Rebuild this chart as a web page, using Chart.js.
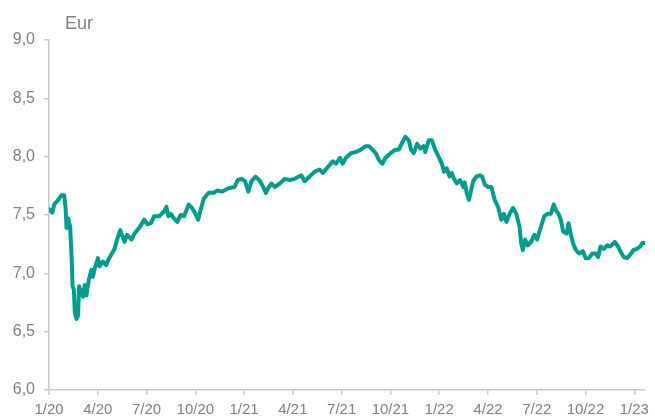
<!DOCTYPE html>
<html>
<head>
<meta charset="utf-8">
<script src="https://cdn.jsdelivr.net/npm/chart.js@4.4.0/dist/chart.umd.min.js"></script>
<style>
  html, body { margin: 0; padding: 0; background: #ffffff; }
  #wrap { width: 655px; height: 418px; position: relative; }
</style>
</head>
<body>
<div id="wrap"><canvas id="c"></canvas></div>
<script>
// Months elapsed since 1 Jan 2020
const months = [
  0, 0.20, 0.32, 0.57, 0.77, 0.93, 1.02, 1.08, 1.18, 1.30, 1.39, 1.45, 1.53, 1.59, 1.69, 1.79,
  1.85, 2.00, 2.09, 2.20, 2.30, 2.44, 2.61, 2.70, 2.81, 3.01, 3.11, 3.31, 3.52, 3.62, 3.83,
  4.03, 4.19, 4.39, 4.64, 4.80, 5.08, 5.25, 5.55, 5.86, 6.06, 6.27, 6.47, 6.77, 7.08, 7.22,
  7.34, 7.49, 7.69, 7.89, 8.10, 8.30, 8.60, 8.80, 9.01, 9.17, 9.32, 9.52, 9.82, 10.13, 10.33,
  10.63, 11.04, 11.41, 11.61, 11.85, 12.06, 12.26, 12.46, 12.71, 12.98, 13.18, 13.34, 13.48,
  13.69, 13.89, 14.20, 14.50, 14.81, 15.11, 15.52, 15.72, 16.03, 16.33, 16.64, 16.84, 17.14,
  17.45, 17.65, 17.90, 18.06, 18.26, 18.57, 18.87, 19.18, 19.48, 19.69, 19.89, 20.09, 20.30,
  20.50, 20.70, 21.01, 21.31, 21.52, 21.72, 21.92, 22.13, 22.27, 22.43, 22.64, 22.84, 23.04,
  23.14, 23.35, 23.55, 23.75, 23.96, 24.16, 24.30, 24.47, 24.63, 24.77, 24.91, 25.08, 25.28,
  25.49, 25.57, 25.69, 25.83, 25.96, 26.09, 26.29, 26.50, 26.64, 26.80, 27.01, 27.21, 27.41,
  27.62, 27.82, 27.98, 28.13, 28.33, 28.54, 28.74, 28.94, 29.04, 29.14, 29.29, 29.45, 29.65,
  29.85, 30.02, 30.26, 30.46, 30.67, 30.87, 31.04, 31.18, 31.34, 31.48, 31.62, 31.83, 31.95,
  32.09, 32.23, 32.40, 32.60, 32.84, 33.01, 33.21, 33.42, 33.62, 33.78, 33.92, 34.13, 34.33,
  34.53, 34.80, 35.00, 35.14, 35.35, 35.55, 35.75, 35.95, 36.16, 36.36, 36.50, 36.63
];
// EUR value
const values = [
  7.55, 7.52, 7.59, 7.63, 7.67, 7.67, 7.56, 7.39, 7.47, 7.40, 7.14, 6.89, 6.86, 6.66, 6.61, 6.64,
  6.89, 6.83, 6.80, 6.90, 6.81, 6.94, 7.03, 6.97, 7.04, 7.13, 7.06, 7.10, 7.07, 7.11, 7.16,
  7.21, 7.29, 7.37, 7.27, 7.33, 7.29, 7.34, 7.39, 7.46, 7.42, 7.43, 7.49, 7.49, 7.53, 7.57,
  7.49, 7.51, 7.47, 7.44, 7.50, 7.49, 7.59, 7.56, 7.51, 7.46, 7.54, 7.64, 7.69, 7.69, 7.71,
  7.70, 7.73, 7.74, 7.80, 7.81, 7.79, 7.70, 7.79, 7.83, 7.79, 7.74, 7.69, 7.73,
  7.77, 7.74, 7.77, 7.81, 7.80, 7.81, 7.84, 7.79, 7.83, 7.87, 7.89, 7.86, 7.91,
  7.96, 7.94, 7.99, 7.94, 7.99, 8.03, 8.04, 8.06, 8.09, 8.09, 8.06, 8.03, 7.97,
  7.94, 7.99, 8.03, 8.06, 8.06, 8.12, 8.17, 8.14, 8.06, 8.03, 8.11, 8.07, 8.09,
  8.04, 8.14, 8.14, 8.06, 8.00, 7.94, 7.87, 7.90, 7.83, 7.86, 7.81, 7.77, 7.80,
  7.74, 7.78, 7.69, 7.63, 7.71, 7.79, 7.83, 7.84, 7.83, 7.76, 7.74, 7.74, 7.63,
  7.57, 7.46, 7.51, 7.44, 7.51, 7.56, 7.51, 7.40, 7.26, 7.20, 7.29, 7.24, 7.27,
  7.33, 7.29, 7.40, 7.49, 7.51, 7.51, 7.59, 7.54, 7.51, 7.46, 7.36, 7.34, 7.43,
  7.34, 7.26, 7.20, 7.17, 7.19, 7.13, 7.13, 7.17, 7.17, 7.14, 7.23, 7.21, 7.24,
  7.23, 7.27, 7.23, 7.19, 7.14, 7.13, 7.16, 7.20, 7.21, 7.23, 7.26, 7.26
];
const tickMonths = [0, 3, 6, 9, 12, 15, 18, 21, 24, 27, 30, 33, 36];
const tickLabels = ['1/20', '4/20', '7/20', '10/20', '1/21', '4/21', '7/21', '10/21', '1/22', '4/22', '7/22', '10/22', '1/23'];
const unitLabel = 'Eur';

const points = months.map((m, i) => ({ x: m, y: values[i] }));
const GREY = '#808080';
const AXIS = '#c4c8c8';

const titlePlugin = {
  id: 'unitTitle',
  afterDraw(chart) {
    const ctx = chart.ctx;
    ctx.save();
    ctx.font = '18px "Liberation Sans", Arial, sans-serif';
    ctx.fillStyle = GREY;
    ctx.textBaseline = 'alphabetic';
    ctx.textAlign = 'left';
    ctx.fillText(unitLabel, 65, 29);
    ctx.restore();
  }
};

new Chart(document.getElementById('c'), {
  type: 'line',
  data: {
    datasets: [{
      data: points,
      borderColor: '#009e8f',
      borderWidth: 4,
      pointRadius: 0,
      tension: 0,
      borderJoinStyle: 'round',
      borderCapStyle: 'round',
      fill: false
    }]
  },
  options: {
    responsive: true,
    maintainAspectRatio: false,
    animation: false,
    layout: { padding: { top: 40, right: 5, left: 0, bottom: 0 } },
    plugins: { legend: { display: false }, tooltip: { enabled: false } },
    scales: {
      x: {
        type: 'linear',
        min: 0,
        max: 36.67,
        afterBuildTicks(scale) { scale.ticks = tickMonths.map(v => ({ value: v })); },
        afterFit(scale) { scale.height = 28; },
        ticks: {
          autoSkip: false,
          maxRotation: 0,
          padding: 6,
          color: GREY,
          font: { family: '"Liberation Sans", Arial, sans-serif', size: 15 },
          callback(v) { const i = tickMonths.indexOf(v); return i >= 0 ? tickLabels[i] : ''; }
        },
        grid: { drawOnChartArea: false, drawTicks: true, tickLength: 5, color: AXIS, lineWidth: 1.5 },
        border: { display: true, color: AXIS, width: 1.5 }
      },
      y: {
        min: 6,
        max: 9,
        afterFit(scale) { scale.width = 49; },
        ticks: {
          stepSize: 0.5,
          padding: 9,
          color: GREY,
          font: { family: '"Liberation Sans", Arial, sans-serif', size: 16 },
          callback(v) { return v.toFixed(1).replace('.', ','); }
        },
        grid: { drawOnChartArea: false, drawTicks: true, tickLength: 5, color: AXIS, lineWidth: 1.5 },
        border: { display: true, color: AXIS, width: 1.5 }
      }
    }
  },
  plugins: [titlePlugin]
});
</script>
</body>
</html>
